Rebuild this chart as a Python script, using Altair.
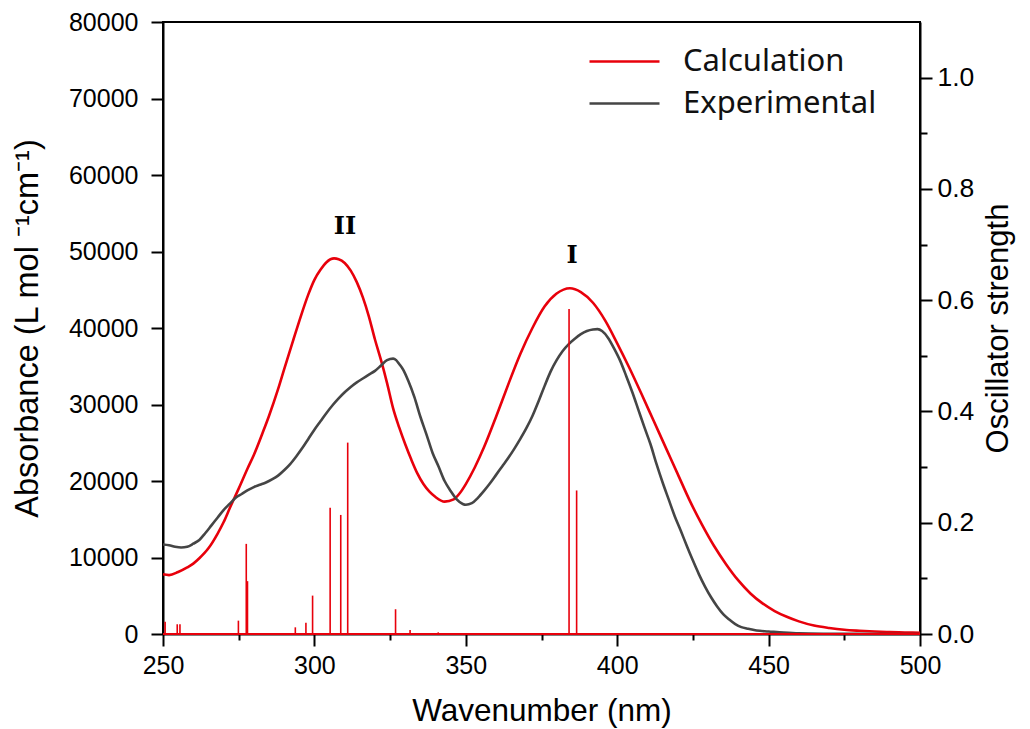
import altair as alt
import pandas as pd

# ---------------- data ----------------
calc_nm = [250, 252, 255, 258, 260, 262, 265, 268, 270, 272, 275, 278, 280, 283, 285, 288,
           290, 293, 295, 298, 300, 302, 304, 306.5, 308, 310, 312, 314, 316, 318, 320, 322,
           324, 326, 328, 330, 332, 334, 336, 338, 340, 343, 346, 348, 350, 353, 356, 360,
           364, 368, 372, 376, 380, 384.4, 388, 392, 396, 400, 404, 408, 412, 416, 420, 424,
           428, 432, 436, 440, 444, 448, 452, 456, 460, 465, 470, 475, 480, 485, 490, 495, 500]
calc_abs = [7800, 7700, 8100, 8700, 9200, 9900, 11200, 13100, 14600, 16400, 19000, 21700,
            23400, 26400, 28500, 32000, 34600, 38400, 40900, 44400, 46300, 47600, 48600, 49100,
            49000, 48500, 47500, 46000, 44000, 41500, 38500, 35800, 32800, 29500, 27000, 24800,
            22800, 21000, 19600, 18600, 17900, 17300, 17600, 18400, 19600, 21800, 24400, 28400,
            32600, 36600, 40000, 42800, 44500, 45200, 44700, 43300, 41000, 38000, 34800, 31400,
            27900, 24400, 20900, 17400, 14300, 11500, 9100, 7000, 5300, 4000, 3000, 2250, 1650,
            1100, 780, 550, 420, 320, 250, 200, 150]

exp_nm = [250, 252, 254, 256, 258, 260, 262, 264, 266, 268, 270, 272, 274, 276, 278, 280,
          282, 284, 286, 288, 290, 292, 294, 296, 298, 300, 302, 304, 306, 308, 310, 312,
          314, 316, 318, 320, 322, 324, 326, 327, 328, 329.4, 331, 333, 335, 337, 339, 341,
          343, 345, 347, 349, 350, 352, 354, 356, 358, 360, 362, 364, 366, 368, 370, 372,
          374, 376, 378, 380, 382, 384, 386, 388, 390, 392, 393.5, 395, 397, 399, 401, 403,
          405, 407, 409, 411, 413, 415, 417, 419, 421, 423, 425, 427, 429, 431, 433, 435,
          437, 439, 441, 443, 446, 450, 455, 460, 470, 480, 500]
exp_abs = [11700, 11600, 11400, 11300, 11400, 11800, 12300, 13200, 14200, 15200, 16200, 17000,
           17800, 18300, 18800, 19200, 19500, 19800, 20200, 20700, 21400, 22200, 23200, 24300,
           25500, 26700, 27800, 28900, 29900, 30800, 31600, 32300, 32900, 33400, 33900, 34400,
           35100, 35800, 36000, 35800, 35300, 34500, 33100, 31000, 28400, 26100, 23700, 21900,
           20000, 18700, 17600, 17000, 16900, 17100, 17800, 18700, 19700, 20800, 21900, 23000,
           24200, 25500, 26900, 28500, 30400, 32400, 34300, 35800, 37000, 37900, 38600, 39200,
           39600, 39800, 39850, 39600, 38700, 37300, 35700, 33700, 31600, 29300, 27000, 24800,
           22200, 19800, 17600, 15400, 13500, 11500, 9600, 7800, 6200, 4800, 3600, 2600,
           1900, 1300, 900, 700, 450, 330, 180, 80, 30, 10, 0]

stick_nm = [250.7, 254.7, 255.6, 274.9, 277.5, 277.9, 293.7, 297.2, 299.4, 305.2, 308.7,
            311.0, 326.8, 331.6, 340.9, 384.1, 386.6]
stick_f = [0.022, 0.0175, 0.0175, 0.024, 0.162, 0.095, 0.012, 0.020, 0.069, 0.227, 0.214,
           0.344, 0.0445, 0.007, 0.003, 0.584, 0.258]

series_names = ["Calculation", "Experimental"]
series_colors = ["#e8000b", "#454545"]

peak_labels = ["II", "I"]
peak_nm = [310.1, 385.1]
peak_abs = [53200, 49400]

# ---------------- tables ----------------
curves = pd.concat([
    pd.DataFrame({"nm": calc_nm, "abs": calc_abs, "series": series_names[0]}),
    pd.DataFrame({"nm": exp_nm, "abs": exp_abs, "series": series_names[1]}),
], ignore_index=True)
sticks = pd.DataFrame({"nm": stick_nm, "f": stick_f})
sticks["base"] = 0.0
peaks = pd.DataFrame({"label": peak_labels, "nm": peak_nm, "abs": peak_abs})

FONT = "Liberation Sans"
RED = series_colors[0]

x_scale = alt.Scale(domain=[250, 500], nice=False, zero=False)
x_axis = alt.Axis(
    title="Wavenumber (nm)",
    values=list(range(250, 501, 25)),
    labelExpr="datum.value % 50 === 0 ? datum.label : ''",
    tickSize={"condition": {"test": "datum.value % 50 === 0", "value": 12}, "value": 6},
    labelOverlap=False,
    labelFlush=False,
    labelPadding=7,
    titlePadding=17,
    titleFontSize=31.5,
    grid=False,
)
y_left_axis = alt.Axis(
    title="Absorbance (L mol \u207b\u00b9cm\u207b\u00b9)",
    values=list(range(0, 80001, 5000)),
    format="d",
    labelExpr="datum.value % 10000 === 0 ? datum.label : ''",
    tickSize={"condition": {"test": "datum.value % 10000 === 0", "value": 12}, "value": 12},
    labelOverlap=False,
    labelFlush=False,
    labelPadding=13,
    titlePadding=24,
    titleFontSize=32.5,
    grid=False,
    orient="left",
)
y_right_axis = alt.Axis(
    title="Oscillator strength",
    values=[round(i * 0.1, 1) for i in range(11)],
    labelExpr="round(datum.value * 10) % 2 === 0 ? format(datum.value, '.1f') : ''",
    tickSize={"condition": {"test": "round(datum.value * 10) % 2 === 0", "value": 12},
              "value": 7},
    labelOverlap=False,
    labelFlush=False,
    labelPadding=5,
    labelFontSize=26.5,
    titlePadding=10,
    titleAngle=270,
    titleBaseline="top",
    titleFontSize=31,
    grid=False,
    orient="right",
)

lines = alt.Chart(curves).mark_line(strokeWidth=2.6, interpolate="monotone").encode(
    x=alt.X("nm:Q", scale=x_scale, axis=x_axis),
    y=alt.Y("abs:Q", scale=alt.Scale(domain=[0, 80000], nice=False), axis=y_left_axis),
    color=alt.Color(
        "series:N",
        scale=alt.Scale(domain=series_names, range=series_colors),
        legend=alt.Legend(
            title=None, orient="none", legendX=440, legendY=18,
            symbolType="M-2.5,0L2.5,0", symbolSize=784, symbolStrokeWidth=2.6,
            labelFontSize=31, labelFont="Noto Sans", labelColor="#111111",
            labelOffset=43, rowPadding=10, labelLimit=400, padding=6,
        ),
    ),
    order=alt.Order("nm:Q"),
)

peak_text = alt.Chart(peaks).mark_text(
    font="DejaVu Serif", fontWeight="bold", fontSize=24, color="black",
).encode(
    x=alt.X("nm:Q", scale=x_scale),
    y=alt.Y("abs:Q", scale=alt.Scale(domain=[0, 80000], nice=False)),
    text="label:N",
)

left = alt.layer(lines, peak_text)

stick_marks = alt.Chart(sticks).mark_rule(color=RED, strokeWidth=1.6).encode(
    x=alt.X("nm:Q", scale=x_scale),
    y=alt.Y("f:Q", scale=alt.Scale(domain=[0, 1.1], nice=False), axis=y_right_axis),
    y2="base:Q",
)
baseline = alt.Chart(sticks).mark_rule(color=RED, strokeWidth=2).encode(
    y=alt.datum(0),
)
right = alt.layer(stick_marks, baseline)

chart = alt.layer(left, right).resolve_scale(y="independent").properties(
    width=757, height=612,
    autosize=alt.AutoSizeParams(type="none"),
    padding={"left": 155, "top": 14, "right": 100, "bottom": 96},
).configure_view(
    stroke="black", strokeWidth=2,
).configure_axis(
    domainColor="black", domainWidth=2, tickColor="black", tickWidth=2,
    labelFont=FONT, labelFontSize=25, labelColor="black",
    titleFont=FONT, titleFontWeight="normal", titleColor="black",
)

chart.save("out.html", embed_options={"renderer": "svg", "actions": False})
